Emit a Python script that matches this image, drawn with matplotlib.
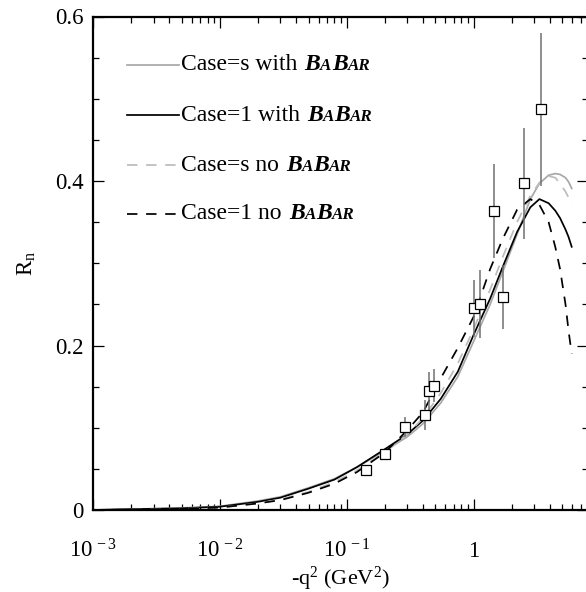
import matplotlib
matplotlib.use('Agg')
import matplotlib.pyplot as plt
from matplotlib.ticker import LogLocator, MultipleLocator, NullFormatter, FixedLocator
from matplotlib.offsetbox import TextArea, DrawingArea, HPacker, AnchoredOffsetbox
from matplotlib.lines import Line2D

plt.rcParams['font.family'] = ['Liberation Serif', 'DejaVu Serif']
plt.rcParams['mathtext.fontset'] = 'custom'
plt.rcParams['mathtext.rm'] = 'Liberation Serif'
plt.rcParams['mathtext.it'] = 'Liberation Serif:italic'
plt.rcParams['mathtext.bf'] = 'Liberation Serif:bold'

# model curves, -q^2 in GeV^2
q2 = [0.001, 0.002, 0.005, 0.01, 0.02, 0.03, 0.05, 0.08, 0.12, 0.2, 0.3, 0.4,
      0.55, 0.75, 1.0, 1.35, 1.7, 2.2, 2.8, 3.3, 3.9, 4.4, 4.8, 5.3, 5.6, 5.93]
r_s_babar = [0.0, 0.001, 0.0025, 0.0045, 0.011, 0.016, 0.027, 0.038, 0.052, 0.072,
             0.089, 0.105, 0.130, 0.162, 0.205, 0.250, 0.290, 0.335, 0.378, 0.397,
             0.407, 0.409, 0.408, 0.404, 0.399, 0.391]
r_1_babar = [0.0, 0.001, 0.002, 0.004, 0.010, 0.015, 0.026, 0.037, 0.052, 0.074,
             0.092, 0.109, 0.135, 0.168, 0.213, 0.257, 0.296, 0.338, 0.368, 0.378,
             0.373, 0.364, 0.355, 0.341, 0.332, 0.320]
r_s_nobabar = [0.0, 0.0005, 0.0015, 0.003, 0.008, 0.013, 0.022, 0.034, 0.048, 0.070,
               0.092, 0.112, 0.142, 0.178, 0.220, 0.268, 0.308, 0.350, 0.382, 0.398,
               0.406, 0.404, 0.397, 0.387, 0.380, 0.371]
r_1_nobabar = [0.0, 0.0005, 0.0015, 0.003, 0.008, 0.012, 0.021, 0.032, 0.046, 0.070,
               0.097, 0.119, 0.160, 0.197, 0.235, 0.293, 0.330, 0.365, 0.378, 0.371,
               0.350, 0.320, 0.293, 0.250, 0.218, 0.190]

# measured points
q2_data = [0.142, 0.202, 0.290, 0.417, 0.444, 0.491, 1.0, 1.125, 1.44, 1.71, 2.50, 3.40]
rn_data = [0.049, 0.068, 0.101, 0.1155, 0.1447, 0.151, 0.245, 0.2505, 0.3635, 0.259, 0.397, 0.487]
rn_err = [0.005, 0.006, 0.0125, 0.018, 0.023, 0.02, 0.035, 0.041, 0.057, 0.039, 0.067, 0.093]

xticks = [1e-3, 1e-2, 1e-1, 1]
xticklabels = [r'$10^{\,-3}$', r'$10^{\,-2}$', r'$10^{\,-1}$', r'$1$']
yticks = [0, 0.2, 0.4, 0.6]
yticklabels = ['0', '0.2', '0.4', '0.6']

labels = ['Case=s with', 'Case=1 with', 'Case=s no', 'Case=1 no']
colors = ['#a8a8a8', 'black', '#bcbcbc', 'black']
styles = ['-', '-', '--', '--']

fs = 16.5

fig = plt.figure(figsize=(5.86, 5.92), dpi=100)
ax = fig.add_axes([93 / 586, 82 / 592, 494.5 / 586, 493.5 / 592])

curves = [r_s_babar, r_1_babar, r_s_nobabar, r_1_nobabar]
for y, c, ls in zip(curves, colors, styles):
    kw = dict(color=c, lw=1.25)
    if ls == '--':
        kw['dashes'] = (6, 5)
    ax.plot(q2, y, **kw)

ax.errorbar(q2_data, rn_data, yerr=rn_err, fmt='none', ecolor='#707070', elinewidth=1.1)
ax.plot(q2_data, rn_data, 's', ms=7.3, mfc='white', mec='black', mew=0.9)

ax.set_xscale('log')
ax.set_xlim(1e-3, 7.9)
ax.set_ylim(0, 0.6)

ax.xaxis.set_major_locator(FixedLocator(xticks))
ax.set_xticklabels(xticklabels)
ax.xaxis.set_minor_locator(LogLocator(base=10, subs=range(2, 10), numticks=20))
ax.xaxis.set_minor_formatter(NullFormatter())
ax.yaxis.set_major_locator(FixedLocator(yticks))
ax.set_yticklabels(yticklabels)
ax.yaxis.set_minor_locator(MultipleLocator(0.05))

ax.tick_params(which='both', direction='in', top=True, right=True, width=0.9,
               labelsize=fs)
ax.tick_params(which='major', length=8)
ax.tick_params(which='minor', length=4.3)
ax.tick_params(axis='x', which='major', pad=34)
ax.tick_params(axis='y', which='major', pad=7)
plt.setp(ax.get_xticklabels(), va='baseline')

for s in ax.spines.values():
    s.set_linewidth(1.6)

ax.set_xlabel(r'-q$^2$ (GeV$^2$)', fontsize=16)
ax.xaxis.set_label_coords(0.5, -0.111)
ax.set_ylabel(r'R$_\mathregular{n}$', fontsize=fs, labelpad=12)

# legend drawn by hand so that BaBar can be set in small caps
lfs = 17
rows_y = [0.902, 0.800, 0.699, 0.600]
for lab, c, ls, yy in zip(labels, colors, styles, rows_y):
    da = DrawingArea(37, 10, 0, 0)
    ln = Line2D([0, 37], [5, 5], color=c, lw=1.25)
    if ls == '--':
        ln.set_dashes((6, 5))
    da.add_artist(ln)
    bi = dict(size=lfs, weight='bold', style='italic')
    bs = dict(size=lfs * 0.72, weight='bold', style='italic')
    babar = HPacker(children=[TextArea('B', textprops=bi), TextArea('A', textprops=bs),
                              TextArea('B', textprops=bi), TextArea('AR', textprops=bs)],
                    align='baseline', pad=0, sep=0)
    txt = HPacker(children=[TextArea(lab, textprops=dict(size=lfs)), babar],
                  align='baseline', pad=0, sep=5)
    row = HPacker(children=[da, txt], align='center', pad=0, sep=2)
    box = AnchoredOffsetbox(loc='center left', child=row, pad=0, borderpad=0,
                            frameon=False, bbox_to_anchor=(0.069, yy),
                            bbox_transform=ax.transAxes)
    ax.add_artist(box)

fig.savefig('out.png', dpi=100)
